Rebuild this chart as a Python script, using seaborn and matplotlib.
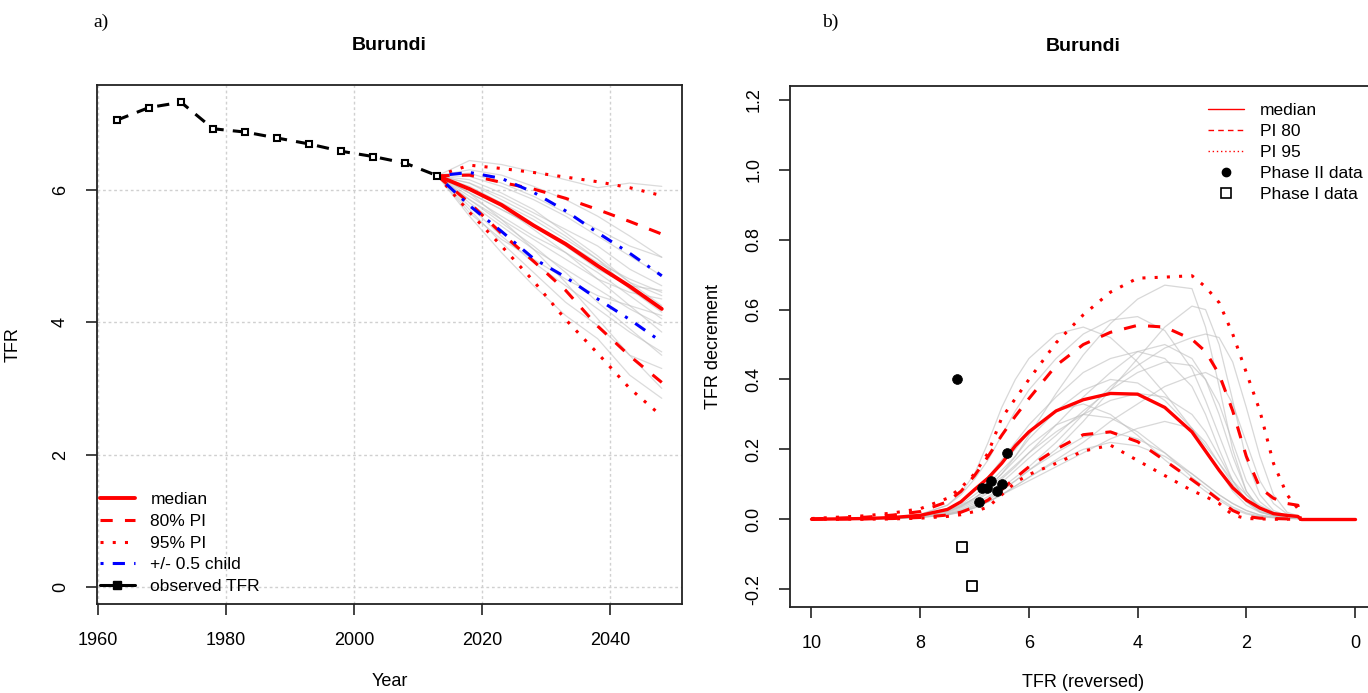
import numpy as np
import pandas as pd
import matplotlib
matplotlib.use("Agg")
import matplotlib.pyplot as plt
import seaborn as sns
from matplotlib.lines import Line2D

# ---------------- data: panel a ----------------
OBS_YEARS = [1963, 1968, 1973, 1978, 1983, 1988, 1993, 1998, 2003, 2008, 2013]
OBS_TFR = [7.05, 7.24, 7.32, 6.92, 6.87, 6.78, 6.69, 6.58, 6.50, 6.40, 6.21]

PROJ_YEARS = [2013, 2018, 2023, 2028, 2033, 2038, 2043, 2048]
MEDIAN = [6.21, 6.01, 5.77, 5.46, 5.18, 4.85, 4.54, 4.20]
PI80_LOW = [6.21, 5.80, 5.34, 4.92, 4.48, 3.94, 3.49, 3.09]
PI80_HIGH = [6.21, 6.22, 6.11, 6.01, 5.87, 5.70, 5.52, 5.33]
PI95_LOW = [6.21, 5.66, 5.15, 4.62, 4.04, 3.53, 3.00, 2.58]
PI95_HIGH = [6.21, 6.37, 6.32, 6.26, 6.19, 6.12, 6.03, 5.91]
HALF_LOW = [6.21, 5.76, 5.37, 4.96, 4.68, 4.35, 4.04, 3.70]
HALF_HIGH = [6.21, 6.26, 6.17, 5.96, 5.68, 5.35, 5.04, 4.70]

TRAJ_A = [
    [6.21, 6.44, 6.38, 6.27, 6.15, 6.03, 6.10, 6.05],
    [6.21, 6.30, 6.22, 6.05, 5.85, 5.60, 5.30, 4.98],
    [6.21, 6.10, 5.90, 5.65, 5.40, 5.15, 4.80, 4.55],
    [6.21, 5.95, 5.70, 5.45, 5.20, 4.90, 4.65, 4.45],
    [6.21, 6.05, 5.80, 5.55, 5.25, 4.95, 4.60, 4.40],
    [6.21, 5.85, 5.55, 5.25, 4.95, 4.65, 4.45, 4.35],
    [6.21, 6.15, 5.95, 5.70, 5.35, 5.00, 4.60, 4.25],
    [6.21, 5.90, 5.60, 5.30, 5.05, 4.75, 4.40, 4.05],
    [6.21, 5.80, 5.45, 5.10, 4.80, 4.50, 4.20, 3.95],
    [6.21, 6.00, 5.75, 5.40, 5.05, 4.65, 4.25, 3.85],
    [6.21, 5.75, 5.30, 4.90, 4.55, 4.20, 3.85, 3.55],
    [6.21, 5.70, 5.20, 4.75, 4.30, 3.95, 3.50, 3.30],
    [6.21, 5.95, 5.55, 5.10, 4.60, 4.05, 3.50, 3.00],
    [6.21, 5.60, 5.05, 4.55, 4.10, 3.75, 3.20, 2.85],
    [6.21, 6.20, 6.05, 5.85, 5.60, 5.30, 5.00, 4.70],
    [6.21, 6.10, 5.85, 5.60, 5.30, 4.95, 4.50, 4.15],
    [6.21, 5.85, 5.50, 5.15, 4.75, 4.30, 3.90, 3.50],
    [6.21, 6.25, 6.10, 5.90, 5.65, 5.40, 5.15, 4.98],
    [6.21, 5.95, 5.70, 5.45, 5.15, 4.80, 4.55, 4.48],
    [6.21, 5.65, 5.25, 4.95, 4.65, 4.40, 4.25, 4.10],
]

# ---------------- data: panel b ----------------
TFR_GRID = [10, 9, 8.5, 8, 7.5, 7.25, 7, 6.75, 6.5, 6.25, 6, 5.5, 5, 4.5,
            4, 3.5, 3, 2.75, 2.5, 2.25, 2, 1.75, 1.5, 1.25, 1.05, 1.0]
DEC_MEDIAN = [0.000, 0.002, 0.005, 0.011, 0.028, 0.050, 0.085, 0.118, 0.160, 0.210,
              0.250, 0.310, 0.342, 0.360, 0.358, 0.320, 0.250, 0.195, 0.140, 0.090,
              0.055, 0.032, 0.016, 0.011, 0.008, 0.0]
DEC_PI80_HIGH = [0.001, 0.006, 0.012, 0.022, 0.050, 0.080, 0.125, 0.180, 0.240, 0.295,
                 0.345, 0.440, 0.500, 0.535, 0.555, 0.550, 0.515, 0.480, 0.415, 0.310,
                 0.180, 0.090, 0.060, 0.045, 0.040, 0.0]
DEC_PI80_LOW = [0.000, 0.001, 0.002, 0.005, 0.012, 0.020, 0.035, 0.055, 0.085, 0.118,
                0.150, 0.200, 0.242, 0.250, 0.222, 0.168, 0.113, 0.085, 0.055, 0.025,
                0.008, 0.003, 0.002, 0.001, 0.001, 0.0]
DEC_PI95_HIGH = [0.002, 0.010, 0.018, 0.030, 0.060, 0.090, 0.130, 0.190, 0.290, 0.345,
                 0.400, 0.505, 0.585, 0.650, 0.690, 0.693, 0.697, 0.665, 0.620, 0.530,
                 0.420, 0.310, 0.160, 0.070, 0.030, 0.0]
DEC_PI95_LOW = [0.000, 0.000, 0.001, 0.003, 0.008, 0.013, 0.022, 0.035, 0.070, 0.105,
                0.128, 0.160, 0.195, 0.212, 0.168, 0.125, 0.082, 0.065, 0.045, 0.012,
                0.002, 0.001, 0.000, 0.000, 0.000, 0.0]
MEDIAN_TAIL_X = [1.0, 0.0]
MEDIAN_TAIL_Y = [0.0, 0.0]

TRAJ_B = [
    [0, 0.003, 0.006, 0.013, 0.04, 0.075, 0.13, 0.22, 0.32, 0.40, 0.46, 0.53, 0.55, 0.52, 0.45, 0.36, 0.26, 0.21, 0.16, 0.11, 0.07, 0.04, 0.02, 0.01, 0.005, 0],
    [0, 0.002, 0.005, 0.01, 0.025, 0.04, 0.06, 0.09, 0.13, 0.18, 0.24, 0.36, 0.47, 0.56, 0.63, 0.67, 0.66, 0.55, 0.38, 0.20, 0.08, 0.03, 0.012, 0.006, 0.004, 0],
    [0, 0.001, 0.003, 0.007, 0.018, 0.028, 0.045, 0.065, 0.09, 0.12, 0.15, 0.22, 0.30, 0.38, 0.44, 0.49, 0.52, 0.53, 0.52, 0.45, 0.32, 0.18, 0.07, 0.02, 0.01, 0],
    [0, 0.002, 0.005, 0.011, 0.03, 0.05, 0.08, 0.12, 0.17, 0.22, 0.27, 0.35, 0.42, 0.46, 0.48, 0.46, 0.38, 0.30, 0.20, 0.11, 0.05, 0.02, 0.01, 0.005, 0.003, 0],
    [0, 0.002, 0.004, 0.009, 0.022, 0.036, 0.06, 0.09, 0.13, 0.17, 0.21, 0.27, 0.30, 0.29, 0.25, 0.19, 0.12, 0.09, 0.06, 0.035, 0.018, 0.009, 0.005, 0.003, 0.002, 0],
    [0, 0.002, 0.004, 0.01, 0.026, 0.042, 0.07, 0.10, 0.14, 0.18, 0.23, 0.31, 0.37, 0.40, 0.39, 0.34, 0.26, 0.20, 0.14, 0.08, 0.04, 0.02, 0.01, 0.005, 0.003, 0],
    [0, 0.001, 0.003, 0.006, 0.015, 0.025, 0.04, 0.06, 0.085, 0.11, 0.14, 0.19, 0.235, 0.25, 0.23, 0.19, 0.13, 0.10, 0.07, 0.045, 0.025, 0.012, 0.006, 0.003, 0.002, 0],
    [0, 0.001, 0.003, 0.008, 0.02, 0.032, 0.05, 0.075, 0.105, 0.14, 0.175, 0.24, 0.31, 0.37, 0.42, 0.45, 0.44, 0.40, 0.33, 0.22, 0.11, 0.05, 0.02, 0.008, 0.005, 0],
    [0, 0.002, 0.004, 0.01, 0.024, 0.038, 0.06, 0.09, 0.12, 0.155, 0.19, 0.25, 0.30, 0.34, 0.36, 0.35, 0.30, 0.25, 0.18, 0.11, 0.055, 0.025, 0.01, 0.005, 0.003, 0],
    [0, 0.003, 0.006, 0.014, 0.04, 0.07, 0.115, 0.17, 0.24, 0.31, 0.37, 0.46, 0.53, 0.57, 0.58, 0.54, 0.43, 0.34, 0.24, 0.14, 0.07, 0.03, 0.012, 0.006, 0.004, 0],
    [0, 0.001, 0.002, 0.005, 0.012, 0.02, 0.032, 0.05, 0.07, 0.095, 0.12, 0.165, 0.2, 0.22, 0.21, 0.18, 0.13, 0.1, 0.07, 0.045, 0.025, 0.012, 0.006, 0.003, 0.002, 0],
    [0, 0.001, 0.002, 0.005, 0.014, 0.022, 0.035, 0.05, 0.07, 0.095, 0.12, 0.17, 0.22, 0.28, 0.33, 0.38, 0.41, 0.42, 0.40, 0.33, 0.22, 0.11, 0.045, 0.015, 0.008, 0],
    [0, 0.002, 0.005, 0.012, 0.03, 0.05, 0.08, 0.12, 0.16, 0.2, 0.25, 0.31, 0.33, 0.3, 0.24, 0.17, 0.11, 0.08, 0.055, 0.03, 0.015, 0.007, 0.004, 0.002, 0.001, 0],
    [0, 0.002, 0.004, 0.009, 0.022, 0.035, 0.055, 0.08, 0.115, 0.15, 0.19, 0.27, 0.35, 0.42, 0.48, 0.50, 0.46, 0.40, 0.30, 0.18, 0.08, 0.03, 0.012, 0.006, 0.004, 0],
    [0, 0.001, 0.002, 0.005, 0.013, 0.021, 0.033, 0.05, 0.07, 0.09, 0.11, 0.15, 0.19, 0.23, 0.26, 0.28, 0.26, 0.22, 0.16, 0.1, 0.05, 0.022, 0.01, 0.005, 0.003, 0],
    [0, 0.001, 0.003, 0.006, 0.015, 0.024, 0.038, 0.055, 0.08, 0.11, 0.14, 0.2, 0.28, 0.37, 0.46, 0.55, 0.61, 0.6, 0.5, 0.34, 0.17, 0.07, 0.025, 0.01, 0.006, 0],
]

PHASE2_TFR = [7.32, 6.92, 6.87, 6.78, 6.69, 6.58, 6.50, 6.40]
PHASE2_DEC = [0.40, 0.05, 0.09, 0.09, 0.11, 0.08, 0.10, 0.19]
PHASE1_TFR = [7.05, 7.24]
PHASE1_DEC = [-0.19, -0.08]

# ---------------- styling ----------------
sns.set_theme(style="white")
plt.rcParams["font.family"] = ["Liberation Sans", "DejaVu Sans"]
for key in ("text.color", "axes.labelcolor", "xtick.color", "ytick.color"):
    plt.rcParams[key] = "black"

RED = "#ff0000"
BLUE = "#0000ff"
GRAY = "#bebebe"
DASHED = (0, (4, 4))
DOTTED = (0, (1, 3))
DOTDASH = (0, (1, 3, 4, 3))
TICKFS = 13
LABFS = 13

fig = plt.figure(figsize=(13.68, 6.93), dpi=100)
axL = fig.add_axes([0.0707, 0.128, 0.4278, 0.7493])
axR = fig.add_axes([0.5777, 0.1237, 0.4287, 0.7522])


def draw(ax, x, y, color, lw, ls="-", z=3, **kw):
    sns.lineplot(x=x, y=y, ax=ax, color=color, lw=lw, linestyle=ls,
                 sort=False, estimator=None, zorder=z, **kw)


# ---------- panel a ----------
dfA = pd.DataFrame([(i, yr, v) for i, tr in enumerate(TRAJ_A)
                    for yr, v in zip(PROJ_YEARS, tr)],
                   columns=["traj", "year", "tfr"])
sns.lineplot(data=dfA, x="year", y="tfr", units="traj", estimator=None,
             color=GRAY, lw=0.9, alpha=0.55, ax=axL, legend=False, zorder=2)

draw(axL, PROJ_YEARS, PI95_HIGH, RED, 2.2, DOTTED)
draw(axL, PROJ_YEARS, PI95_LOW, RED, 2.2, DOTTED)
draw(axL, PROJ_YEARS, PI80_HIGH, RED, 2.2, DASHED)
draw(axL, PROJ_YEARS, PI80_LOW, RED, 2.2, DASHED)
draw(axL, PROJ_YEARS, HALF_HIGH, BLUE, 2.2, DOTDASH)
draw(axL, PROJ_YEARS, HALF_LOW, BLUE, 2.2, DOTDASH)
draw(axL, PROJ_YEARS, MEDIAN, RED, 2.8, "-", z=4)
draw(axL, OBS_YEARS, OBS_TFR, "black", 2.2, (0, (4, 3)), z=5,
     marker="s", markersize=5, markerfacecolor="white",
     markeredgecolor="black", markeredgewidth=1.5)

axL.set_xlim(1959.85, 2051.15)
axL.set_ylim(-0.26, 7.58)
axL.set_xticks([1960, 1980, 2000, 2020, 2040])
axL.set_yticks([0, 2, 4, 6])
axL.grid(True, linestyle=(0, (2, 2)), color="#d0d0d0", lw=1.0)
axL.set_axisbelow(True)
axL.set_xlabel("Year", fontsize=LABFS, labelpad=17)
axL.set_ylabel("TFR", fontsize=LABFS, labelpad=22)
axL.set_title("Burundi", fontweight="bold", fontsize=14, pad=25)

hL = [
    Line2D([], [], color=RED, lw=2.8),
    Line2D([], [], color=RED, lw=2.2, ls=DASHED),
    Line2D([], [], color=RED, lw=2.2, ls=DOTTED),
    Line2D([], [], color=BLUE, lw=2.2, ls=DOTDASH),
    Line2D([], [], color="black", lw=2.2, marker="s", markersize=6),
]
axL.legend(hL, ["median", "80% PI", "95% PI", "+/- 0.5 child", "observed TFR"],
           loc="upper left", bbox_to_anchor=(100 / 1368, 1 - 492 / 693),
           bbox_transform=fig.transFigure, frameon=False, fontsize=12.5,
           handlelength=2.0, handletextpad=0.9, labelspacing=0.38,
           borderpad=0, borderaxespad=0)

# ---------- panel b ----------
dfB = pd.DataFrame([(i, x, v) for i, tr in enumerate(TRAJ_B)
                    for x, v in zip(TFR_GRID, tr)],
                   columns=["traj", "tfr", "dec"])
sns.lineplot(data=dfB, x="tfr", y="dec", units="traj", estimator=None,
             sort=False, color=GRAY, lw=0.9, alpha=0.6, ax=axR,
             legend=False, zorder=2)

draw(axR, TFR_GRID, DEC_PI95_HIGH, RED, 2.2, DOTTED)
draw(axR, TFR_GRID, DEC_PI95_LOW, RED, 2.2, DOTTED)
draw(axR, TFR_GRID, DEC_PI80_HIGH, RED, 2.2, DASHED)
draw(axR, TFR_GRID, DEC_PI80_LOW, RED, 2.2, DASHED)
draw(axR, TFR_GRID, DEC_MEDIAN, RED, 2.4, "-", z=4)
draw(axR, MEDIAN_TAIL_X, MEDIAN_TAIL_Y, RED, 2.4, "-", z=4)

sns.scatterplot(x=PHASE2_TFR, y=PHASE2_DEC, ax=axR, color="black", s=50,
                marker="o", edgecolor="black", linewidth=0.5, zorder=6)
sns.scatterplot(x=PHASE1_TFR, y=PHASE1_DEC, ax=axR, s=60, marker="s",
                facecolor="white", edgecolor="black", linewidth=1.3, zorder=6)

axR.set_xlim(10.39, -0.40)
axR.set_ylim(-0.252, 1.24)
axR.set_xticks([10, 8, 6, 4, 2, 0])
axR.set_yticks([-0.2, 0.0, 0.2, 0.4, 0.6, 0.8, 1.0, 1.2])
axR.set_yticklabels(["-0.2", "0.0", "0.2", "0.4", "0.6", "0.8", "1.0", "1.2"])
axR.set_xlabel("TFR (reversed)", fontsize=LABFS, labelpad=16)
axR.set_ylabel("TFR decrement", fontsize=LABFS, labelpad=17)
axR.set_title("Burundi", fontweight="bold", fontsize=14, pad=25)

hR = [
    Line2D([], [], color=RED, lw=1.0),
    Line2D([], [], color=RED, lw=1.0, ls=(0, (4, 3))),
    Line2D([], [], color=RED, lw=1.0, ls=(0, (1, 2))),
    Line2D([], [], color="black", lw=0, marker="o", markersize=6),
    Line2D([], [], color="black", lw=0, marker="s", markersize=7,
           markerfacecolor="white", markeredgewidth=1.2),
]
axR.legend(hR, ["median", "PI 80", "PI 95", "Phase II data", "Phase I data"],
           loc="upper left", bbox_to_anchor=(1208 / 1368, 1 - 103 / 693),
           bbox_transform=fig.transFigure, frameon=False, fontsize=12.5,
           handlelength=2.1, handletextpad=0.9, labelspacing=0.34,
           borderpad=0, borderaxespad=0)

for ax in (axL, axR):
    ax.tick_params(axis="both", which="both", bottom=True, left=True,
                   direction="out", length=8, width=1.2, color="#222222",
                   labelsize=TICKFS, labelcolor="black", pad=12)
    for lab in ax.get_yticklabels():
        lab.set_rotation(90)
        lab.set_va("center")
    for sp in ax.spines.values():
        sp.set_visible(True)
        sp.set_color("#222222")
        sp.set_linewidth(1.3)

fig.text(93 / 1368, 1 - 22 / 693, "a)", family=["Liberation Serif", "DejaVu Serif"],
         fontsize=14, va="center", ha="left")
fig.text(822 / 1368, 1 - 22 / 693, "b)", family=["Liberation Serif", "DejaVu Serif"],
         fontsize=14, va="center", ha="left")

fig.savefig("out.png", dpi=100)
